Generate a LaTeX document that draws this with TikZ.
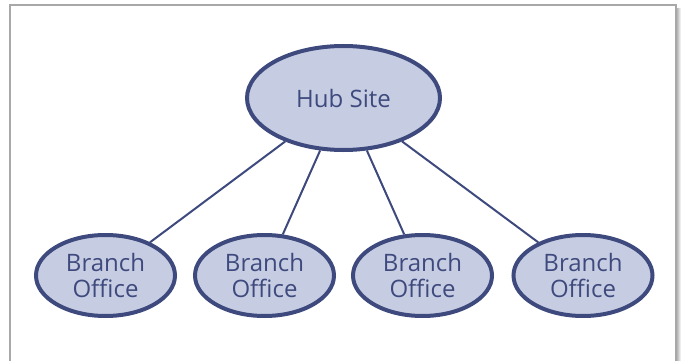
\documentclass[tikz,border=0pt]{standalone}
\usepackage{fontspec}
\setmainfont{Open Sans}
\usetikzlibrary{shapes.geometric}
\definecolor{navy}{HTML}{3E4A7D}
\definecolor{lav}{HTML}{C6CDE3}
\definecolor{framegray}{HTML}{A8A8A8}
\begin{document}
\begin{tikzpicture}[x=1pt,y=-1pt,
  oval/.style={ellipse, draw=navy, fill=lav, line width=4pt, inner sep=0pt,
    text=navy, align=center, font=\fontsize{24}{26}\selectfont},
  hub/.style={oval, minimum width=193pt, minimum height=104pt},
  branch/.style={oval, minimum width=139pt, minimum height=81pt},
  link/.style={draw=navy, line width=2pt}]
\useasboundingbox (0,0) rectangle (681,361);
\fill[white] (0,0) rectangle (681,361);
\shade[left color=black!35, right color=white] (676,9) rectangle (681,361);
\draw[framegray, line width=1.5pt] (10,361) -- (10,5) -- (676,5) -- (676,361);
\node[hub] (hub) at (343.5,98) {Hub Site};
\node[branch] (b1) at (105.5,275.5) {Branch\\Office};
\node[branch] (b2) at (264.5,275.5) {Branch\\Office};
\node[branch] (b3) at (422.5,275.5) {Branch\\Office};
\node[branch] (b4) at (583,275.5) {Branch\\Office};
\foreach \b in {b1,b2,b3,b4} \draw[link] (hub) -- (\b);
\end{tikzpicture}
\end{document}
